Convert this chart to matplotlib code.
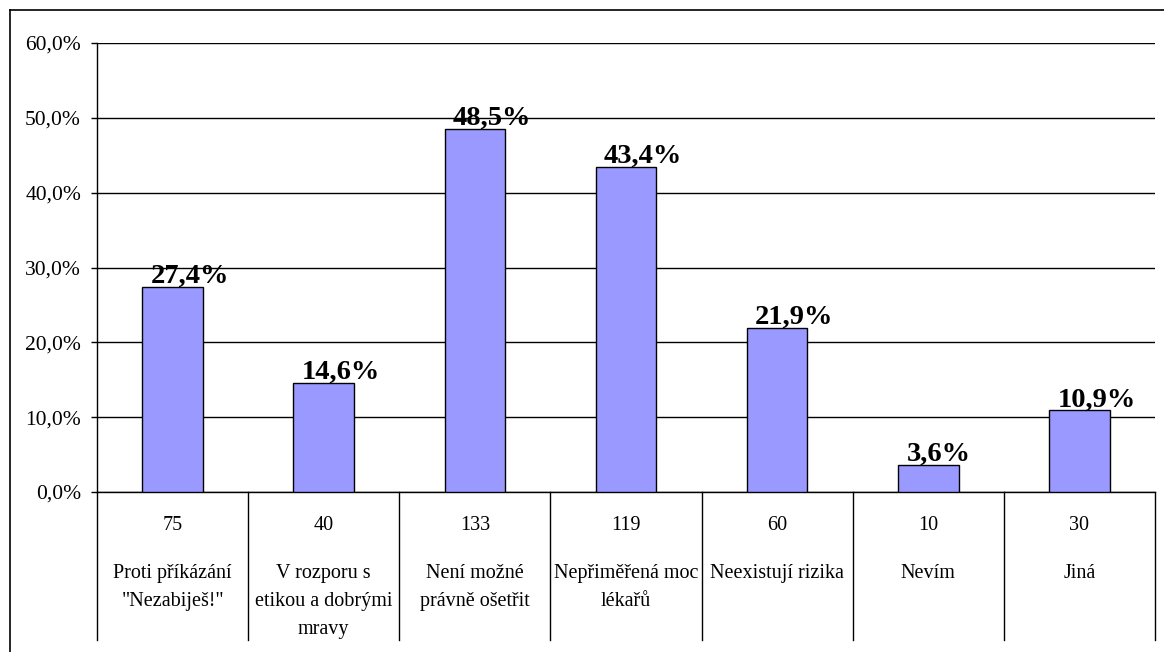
import matplotlib
matplotlib.use("Agg")
import matplotlib.pyplot as plt
import matplotlib.transforms as mtransforms
from matplotlib.lines import Line2D

# data
categories = ['Proti příkázání\n"Nezabiješ!"',
              'V rozporu s\netikou a dobrými\nmravy',
              'Není možné\nprávně ošetřit',
              'Nepřiměřená moc\nlékařů',
              'Neexistují rizika',
              'Nevím',
              'Jiná']
counts = [75, 40, 133, 119, 60, 10, 30]
percents = [27.4, 14.6, 48.5, 43.4, 21.9, 3.6, 10.9]
yticks = [0, 10, 20, 30, 40, 50, 60]

plt.rcParams['font.family'] = ['Liberation Serif', 'DejaVu Serif']

W, H = 1164, 652
fig = plt.figure(figsize=(W / 100, H / 100), dpi=100)
ax = fig.add_axes([97 / W, 1 - 492 / H, (1155 - 97) / W, (492 - 43) / H])

x = list(range(len(categories)))
bar_w = 0.4
ax.bar(x, percents, width=bar_w, color='#9999ff', edgecolor='black',
       linewidth=1.0, zorder=3)

# value labels (bold, left aligned a bit inside the bar's left edge)
for xi, p in zip(x, percents):
    ax.annotate(('%.1f%%' % p).replace('.', ','), (xi - bar_w / 2, p),
                xytext=(6, 3), textcoords='offset points',
                ha='left', va='baseline', fontsize=20.5, fontweight='bold',
                zorder=4)

ax.set_xlim(-0.5, len(categories) - 0.5)
ax.set_ylim(0, 60)
ax.set_yticks(yticks)
ax.set_yticklabels([('%.1f%%' % t).replace('.', ',') for t in yticks])
ax.tick_params(axis='y', direction='out', length=4.5, width=1, pad=7,
               labelsize=15.5, colors='black')
ax.set_xticks([])
ax.yaxis.grid(True, color='black', linewidth=1.0, zorder=0)
ax.set_axisbelow(True)
for s in ['top', 'right']:
    ax.spines[s].set_visible(False)
ax.spines['left'].set_linewidth(1.0)
ax.spines['bottom'].set_linewidth(1.0)

# data table under the axis
trans = mtransforms.blended_transform_factory(ax.transData, ax.transAxes)
ax_h = 492 - 43
y_bot = -(640 - 492) / ax_h
for b in range(len(categories) + 1):
    ax.plot([b - 0.5, b - 0.5], [0, y_bot], color='black', linewidth=1.0,
            transform=trans, clip_on=False)
for xi, c, lab in zip(x, counts, categories):
    ax.text(xi, -(525 - 492) / ax_h, str(c), transform=trans,
            ha='center', va='center', fontsize=14.5)
    ax.text(xi, -(564 - 492) / ax_h, lab, transform=trans,
            ha='center', va='top', fontsize=14.5, linespacing=1.65)

# outer chart border (left and top edges visible)
fig.add_artist(Line2D([9.5 / W, 9.5 / W], [0, 1 - 9.5 / H], color='black',
                      linewidth=1.2, transform=fig.transFigure))
fig.add_artist(Line2D([9.5 / W, 1], [1 - 9.5 / H, 1 - 9.5 / H], color='black',
                      linewidth=1.2, transform=fig.transFigure))

fig.savefig('out.png', dpi=100)
